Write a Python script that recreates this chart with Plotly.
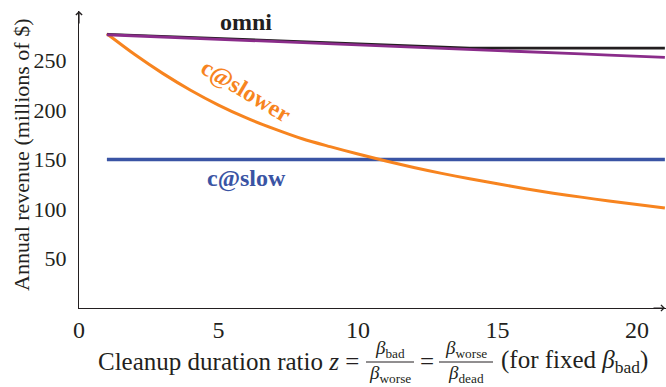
import plotly.graph_objects as go

# ---- data ----
z = list(range(1, 22))
omni = [276.5, 275.4, 274.3, 273.2, 272.1, 271.0, 269.9, 268.8, 267.7, 266.6, 265.5,
        264.4, 263.3, 262.6, 262.5, 262.5, 262.5, 262.5, 262.5, 262.5, 262.5]
purple_series = [276.0, 274.9, 273.7, 272.6, 271.4, 270.3, 269.1, 268.0, 266.8, 265.7, 264.6,
                 263.4, 262.3, 261.1, 260.0, 258.8, 257.7, 256.6, 255.4, 254.3, 253.1]
c_slower = [277, 256, 237, 220, 205, 192, 181, 171, 163, 155.5, 148.5,
            142, 136, 130.5, 125.5, 120.5, 116, 112, 108, 104.5, 101]
c_slow = [150] * 21
x_ticks = [0, 5, 10, 15, 20]
y_ticks = [50, 100, 150, 200, 250]

SERIF = "Liberation Serif, Times New Roman, serif"
BLACK = "#231F20"
PURPLE = "#8A2C8A"
ORANGE = "#F7841F"
BLUE = "#3A54A4"

W, H = 666, 387
ML, MR, MT, MB = 79, 0, 11, 79
PW, PH = W - ML - MR, H - MT - MB


def px(xp):
    return (xp - ML) / PW


def py(yp):
    return (H - MB - yp) / PH


fig = go.Figure()
fig.add_trace(go.Scatter(x=z, y=c_slow, mode="lines", line=dict(color=BLUE, width=3.5), showlegend=False))
fig.add_trace(go.Scatter(x=z, y=c_slower, mode="lines", line=dict(color=ORANGE, width=3, shape="spline", smoothing=0.8),
                         showlegend=False))
fig.add_trace(go.Scatter(x=z, y=omni, mode="lines", line=dict(color=BLACK, width=2.6), showlegend=False))
fig.add_trace(go.Scatter(x=z, y=purple_series, mode="lines", line=dict(color=PURPLE, width=2.8), showlegend=False))

ann = []
# series labels
ann.append(dict(x=6.0, y=289, xref="x", yref="y", text="<b>omni</b>", showarrow=False,
                xanchor="center", yanchor="middle", font=dict(family=SERIF, size=24, color=BLACK)))
ann.append(dict(x=6.0, y=219, xref="x", yref="y", text="<b>c@slower</b>", showarrow=False,
                xanchor="center", yanchor="middle", textangle=31, font=dict(family=SERIF, size=24, color=ORANGE)))
ann.append(dict(x=6.0, y=131, xref="x", yref="y", text="<b>c@slow</b>", showarrow=False,
                xanchor="center", yanchor="middle", font=dict(family=SERIF, size=24, color=BLUE)))

C = dict(xref="paper", yref="paper", showarrow=False, xanchor="center", yanchor="middle")

# y-axis title
ann.append(dict(C, x=px(21), y=py(155), text="Annual revenue (millions of $)",
                textangle=-90, font=dict(family=SERIF, size=22, color=BLACK)))

# x-axis title pieces
tf = dict(family=SERIF, size=25, color=BLACK)
sf = dict(family=SERIF, size=19, color=BLACK)
ann.append(dict(C, x=px(361), y=py(361), xanchor="right",
                text="Cleanup duration ratio <i>z</i> =", font=tf))
ann.append(dict(C, x=px(390), y=py(349), text="<i>β</i><sub>bad</sub>", font=sf))
ann.append(dict(C, x=px(390), y=py(374), text="<i>β</i><sub>worse</sub>", font=sf))
ann.append(dict(C, x=px(427), y=py(361), text="=", font=tf))
ann.append(dict(C, x=px(466), y=py(349), text="<i>β</i><sub>worse</sub>", font=sf))
ann.append(dict(C, x=px(466), y=py(374), text="<i>β</i><sub>dead</sub>", font=sf))
ann.append(dict(C, x=px(499), y=py(361), xanchor="left",
                text="(for fixed <i>β</i><sub>bad</sub>)", font=tf))

# axis arrows
ann.append(dict(x=0, y=1, xref="paper", yref="paper", ax=0, ay=14, showarrow=True,
                arrowhead=4, arrowsize=1, arrowwidth=1.2, arrowcolor=BLACK, text=""))
ann.append(dict(x=1, y=0, xref="paper", yref="paper", ax=-14, ay=0, showarrow=True,
                arrowhead=4, arrowsize=1, arrowwidth=1.2, arrowcolor=BLACK, text=""))

shapes = [
    dict(type="line", xref="paper", yref="paper", x0=px(366), x1=px(414), y0=py(362), y1=py(362),
         line=dict(color=BLACK, width=1)),
    dict(type="line", xref="paper", yref="paper", x0=px(439), x1=px(493), y0=py(362), y1=py(362),
         line=dict(color=BLACK, width=1)),
]

fig.update_layout(
    width=W, height=H,
    margin=dict(l=ML, r=MR, t=MT, b=MB),
    plot_bgcolor="white", paper_bgcolor="white",
    font=dict(family=SERIF, size=24, color=BLACK),
    annotations=ann, shapes=shapes,
    xaxis=dict(range=[0, 21.04], tickvals=x_ticks, showgrid=False, zeroline=False,
               showline=True, linecolor=BLACK, linewidth=1.2, ticks="",
               tickfont=dict(family=SERIF, size=24, color=BLACK), ticklabelstandoff=0),
    yaxis=dict(range=[0, 300], tickvals=y_ticks, showgrid=False, zeroline=False,
               showline=True, linecolor=BLACK, linewidth=1.2, ticks="",
               tickfont=dict(family=SERIF, size=22, color=BLACK), ticklabelstandoff=7),
)

fig.write_html("out.html")
